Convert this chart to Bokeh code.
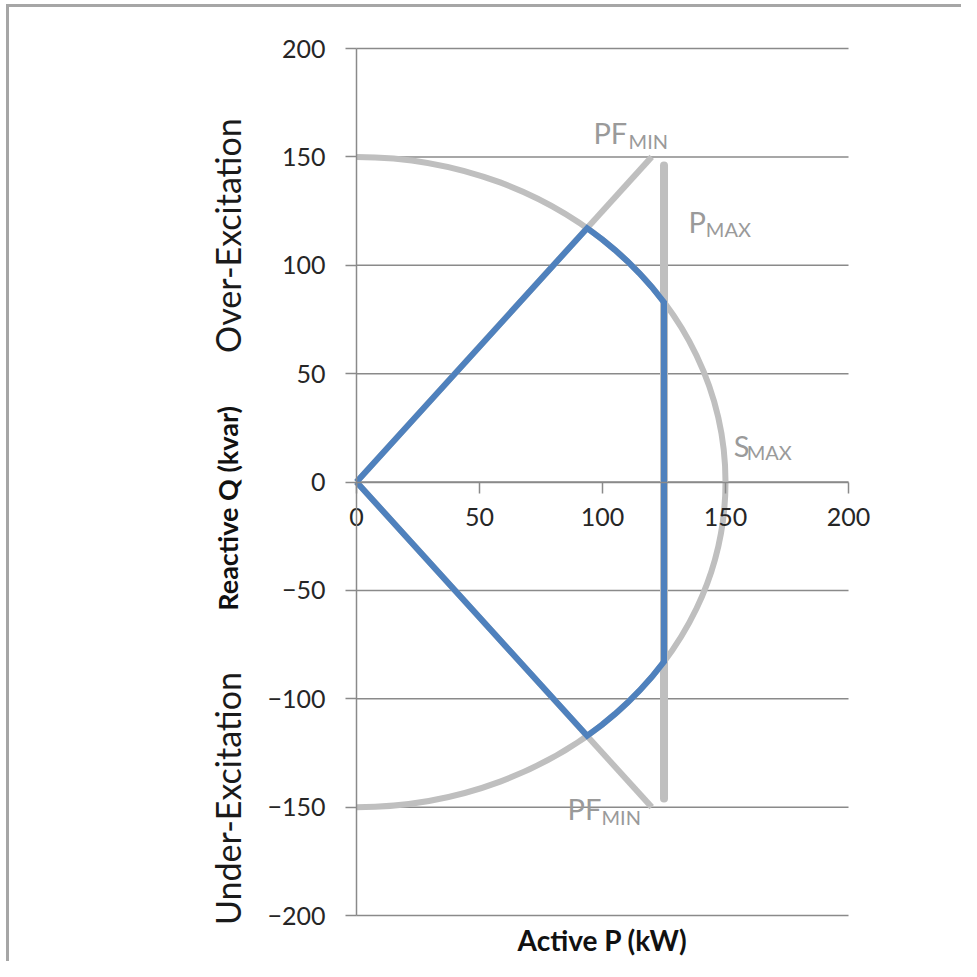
import numpy as np
from bokeh.plotting import figure
from bokeh.models import Range1d, FixedTicker, Label
from bokeh.embed import file_html
from bokeh.resources import INLINE

# ---------------- data ----------------
x_ticks = [0, 50, 100, 150, 200]
y_ticks = [-200, -150, -100, -50, 0, 50, 100, 150, 200]
x_bounds = (0, 200)
y_bounds = (-200, 200)

S_MAX = 150          # apparent power limit (kVA)
P_MAX = 125          # active power limit (kW)

# PF_MIN boundary lines (gray)
pf_p = [0, 120]
pf_q_over = [0, 150]
pf_q_under = [0, -150]

# P_MAX line (gray)
pmax_p = [125, 125]
pmax_q = [-146, 146]

# capability region (blue)
cap_p = [0, 93.75, 100, 105, 110, 115, 120, 125, 125, 120, 115, 110, 105, 100, 93.75, 0]
cap_q = [0, 117.1, 111.8, 107.1, 102.0, 96.3, 90.0, 82.9, -82.9, -90.0, -96.3, -102.0, -107.1, -111.8, -117.1, 0]

FONT = "Lato"
GRID = "#8a8a8a"
LIGHT = "#bfbfbf"
BLUE = "#4f81bd"
LBL = "#9a9a9a"
INK = "#262626"

# the frame fills the whole canvas; axes sit at fixed data locations
p = figure(width=961, height=961,
           x_range=Range1d(-144.72, 245.93), y_range=Range1d(-221.22, 222.15),
           output_backend="svg", toolbar_location=None,
           min_border_left=0, min_border_right=0,
           min_border_top=0, min_border_bottom=0)
p.outline_line_color = None
p.background_fill_color = None
p.border_fill_color = None
p.styles = {
    "background": "linear-gradient(#a6a6a6,#a6a6a6) 6px 4px / 3px calc(100% - 4px) no-repeat, "
                  "linear-gradient(#a6a6a6,#a6a6a6) 6px 4px / calc(100% - 6px) 3px no-repeat, #ffffff"
}

p.xgrid.visible = False
p.ygrid.visible = False

# horizontal grid lines over the P span
p.segment(x0=[x_bounds[0]] * len(y_ticks), x1=[x_bounds[1]] * len(y_ticks),
          y0=y_ticks, y1=y_ticks, line_color=GRID, line_width=1.5)

# x axis crossing at Q = 0
xa = p.xaxis[0]
xa.fixed_location = 0
xa.bounds = x_bounds
xa.ticker = FixedTicker(ticks=x_ticks)
xa.minor_tick_line_color = None
xa.major_tick_in = 0
xa.major_tick_out = 11
xa.major_tick_line_color = GRID
xa.major_tick_line_width = 1.5
xa.axis_line_color = GRID
xa.axis_line_width = 1.5
xa.major_label_text_font = FONT
xa.major_label_text_font_size = "25px"
xa.major_label_text_color = INK
xa.major_label_standoff = 15

ya = p.yaxis[0]
ya.fixed_location = 0
ya.bounds = y_bounds
ya.ticker = FixedTicker(ticks=y_ticks)
ya.minor_tick_line_color = None
ya.major_tick_in = 0
ya.major_tick_out = 11
ya.major_tick_line_color = GRID
ya.major_tick_line_width = 1.5
ya.axis_line_color = GRID
ya.axis_line_width = 1.5
ya.major_label_text_font = FONT
ya.major_label_text_font_size = "25px"
ya.major_label_text_color = INK
ya.major_label_standoff = 20

# S_MAX half-circle (two quarter-ellipse Bezier segments in data space)
K = 0.5523
p.bezier(x0=[0, S_MAX], y0=[S_MAX, 0], x1=[S_MAX, 0], y1=[0, -S_MAX],
         cx0=[K * S_MAX, S_MAX], cy0=[S_MAX, -K * S_MAX],
         cx1=[S_MAX, K * S_MAX], cy1=[K * S_MAX, -S_MAX],
         line_color=LIGHT, line_width=6)
p.line(pf_p, pf_q_over, line_color=LIGHT, line_width=6)
p.line(pf_p, pf_q_under, line_color=LIGHT, line_width=6)
p.line(pmax_p, pmax_q, line_color=LIGHT, line_width=8, line_cap="round")

# capability region
p.line(cap_p, cap_q, line_color=BLUE, line_width=6, line_join="miter")

# annotations
def lab(txt, x, y, size, color=LBL, **kw):
    p.add_layout(Label(x=x, y=y, text=txt, text_font=FONT, text_font_size=size,
                       text_color=color, **kw))

lab("PF", 96.3, 153.3, "29px")
lab("MIN", 110.6, 151.8, "20px")
lab("P", 135.0, 112.3, "29px")
lab("MAX", 142.0, 111.4, "20px")
lab("S", 153.3, 9.0, "29px")
lab("MAX", 158.6, 8.5, "20px")
lab("PF", 85.8, -158.5, "29px")
lab("MIN", 99.6, -160.3, "20px")

lab("Over-Excitation", -52.5, 113.7, "34px", color="#1a1a1a",
    angle=np.pi / 2, text_align="center", text_baseline="alphabetic")
lab("Under-Excitation", -52.5, -146.0, "34px", color="#1a1a1a",
    angle=np.pi / 2, text_align="center", text_baseline="alphabetic")
lab("Reactive Q (kvar)", -52.5, -12.2, "27px", color="#111111",
    angle=np.pi / 2, text_align="center", text_baseline="alphabetic",
    text_font_style="bold")
lab("Active P (kW)", 100, -211.5, "28px", color="#111111",
    text_align="center", text_baseline="middle", text_font_style="bold")

open("out.html", "w").write(file_html(p, INLINE))
